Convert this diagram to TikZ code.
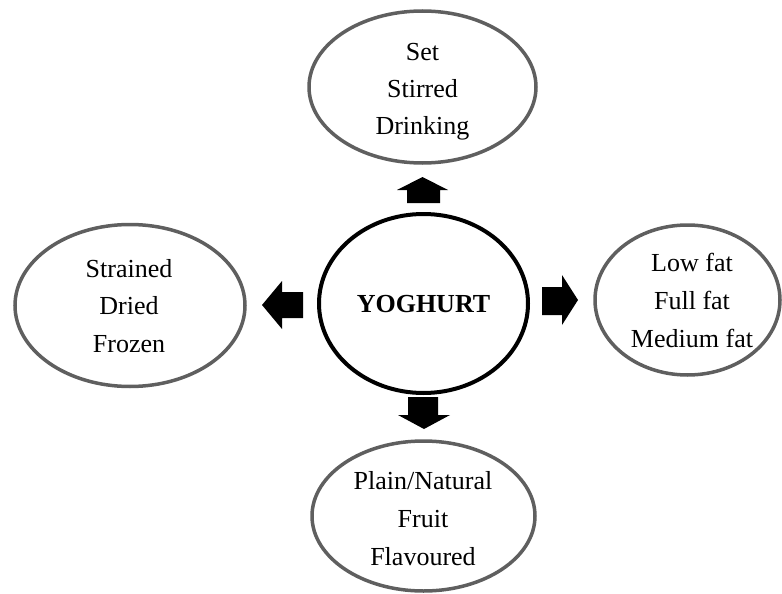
\documentclass[tikz,border=0pt]{standalone}
\usepackage{fontspec}
\setmainfont{Liberation Serif}
\usetikzlibrary{shapes.geometric}
\definecolor{ringgray}{HTML}{5F5F5F}
\begin{document}
\begin{tikzpicture}[x=1pt,y=-1pt,
  blob/.style={ellipse, draw=ringgray, line width=3.5pt, inner sep=0pt},
  core/.style={ellipse, draw=black, line width=4pt, inner sep=0pt,
               font=\fontsize{26}{30}\selectfont\bfseries},
  lbl/.style={anchor=base, inner sep=0pt, font=\fontsize{26}{30}\selectfont},
  blockarrow/.style={fill=black}]
\useasboundingbox (0,0) rectangle (782,594);

% ellipses
\node[core, minimum width=209pt, minimum height=179pt] (yog) at (423.5,303.5) {};
\node[blob, minimum width=227pt, minimum height=152pt] (kinds) at (422.5,87) {};
\node[blob, minimum width=230pt, minimum height=162pt] (proc) at (130,305.5) {};
\node[blob, minimum width=185pt, minimum height=150pt] (fat) at (687.5,300) {};
\node[blob, minimum width=223pt, minimum height=150pt] (flav) at (423.5,516) {};

% texts
\node[lbl, font=\fontsize{26}{30}\selectfont\bfseries] (yogt) at (423.5,312) {YOGHURT};

\node[lbl] (k1) at (422.5,60) {Set};
\node[lbl] (k2) at (422.5,97) {Stirred};
\node[lbl] (k3) at (422.5,134) {Drinking};

\node[lbl] (p1) at (129,277) {Strained};
\node[lbl] (p2) at (129,314) {Dried};
\node[lbl] (p3) at (129,352) {Frozen};

\node[lbl] (f1) at (692,271) {Low fat};
\node[lbl] (f2) at (692,309) {Full fat};
\node[lbl] (f3) at (692,347) {Medium fat};

\node[lbl] (v1) at (423,489) {Plain/Natural};
\node[lbl] (v2) at (423,527) {Fruit};
\node[lbl] (v3) at (423,565) {Flavoured};

% block arrows
\fill[blockarrow] (407,203) -- (407,190) -- (397,190) -- (422.5,177) -- (448,190)
  -- (440,190) -- (440,203) -- cycle;
\fill[blockarrow] (408,397) -- (438,397) -- (438,415) -- (450,415) -- (424,429)
  -- (398,415) -- (408,415) -- cycle;
\fill[blockarrow] (303,292) -- (303,318) -- (282,318) -- (282,329) -- (262,305)
  -- (282,281) -- (282,292) -- cycle;
\fill[blockarrow] (542,287) -- (562,287) -- (562,275) -- (578,300) -- (562,325)
  -- (562,315) -- (542,315) -- cycle;
\end{tikzpicture}
\end{document}
